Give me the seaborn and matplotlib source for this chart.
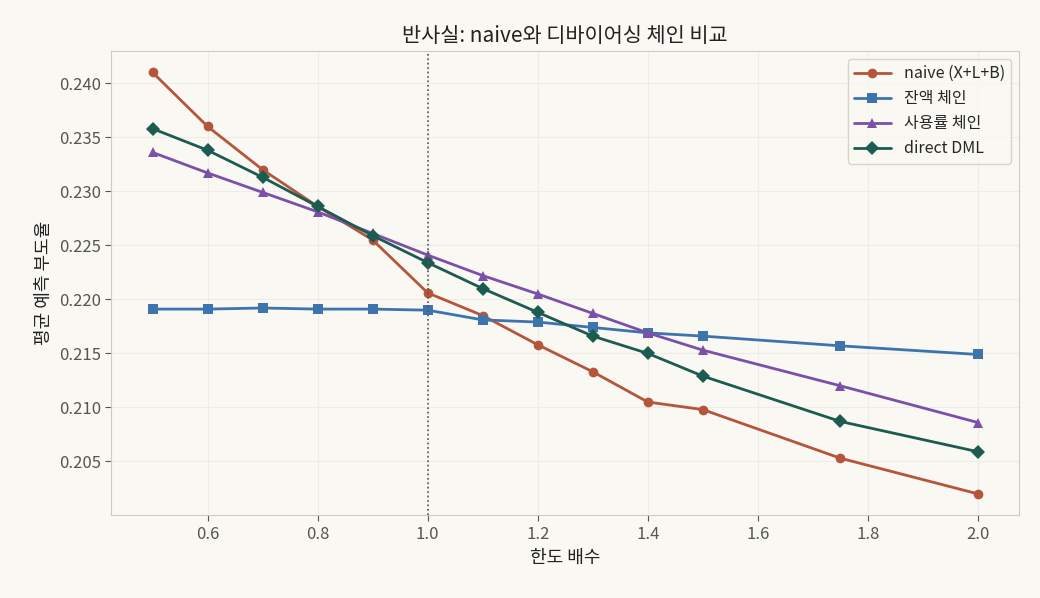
import pandas as pd
import matplotlib.pyplot as plt
import seaborn as sns

# Data
limit_mult = [0.5, 0.6, 0.7, 0.8, 0.9, 1.0, 1.1, 1.2, 1.3, 1.4, 1.5, 1.75, 2.0]
naive = [0.2410, 0.2360, 0.2320, 0.2286, 0.2255, 0.2206, 0.2185, 0.2158, 0.2133, 0.2105, 0.2098, 0.2053, 0.2020]
balance_chain = [0.2191, 0.2191, 0.2192, 0.2191, 0.2191, 0.2190, 0.2181, 0.2179, 0.2174, 0.2169, 0.2166, 0.2157, 0.2149]
usage_chain = [0.2336, 0.2317, 0.2299, 0.2281, 0.2261, 0.2241, 0.2222, 0.2205, 0.2187, 0.2169, 0.2153, 0.2120, 0.2086]
direct_dml = [0.2358, 0.2338, 0.2313, 0.2286, 0.2259, 0.2234, 0.2210, 0.2188, 0.2166, 0.2150, 0.2129, 0.2087, 0.2059]

series_names = ['naive (X+L+B)', '잔액 체인', '사용률 체인', 'direct DML']
colors = ['#b5553b', '#3d74ae', '#7b50a8', '#1c5c50']
markers = ['o', 's', '^', 'D']

df = pd.DataFrame({'x': limit_mult * 4,
                   'y': naive + balance_chain + usage_chain + direct_dml,
                   'series': sum([[n] * len(limit_mult) for n in series_names], [])})

sns.set_style('whitegrid')
plt.rcParams['font.family'] = ['Noto Sans CJK KR', 'DejaVu Sans']

fig, ax = plt.subplots(figsize=(10.4, 5.98), dpi=100)
fig.patch.set_facecolor('#f9f8f3')
ax.set_facecolor('#f9f8f3')

sns.lineplot(data=df, x='x', y='y', hue='series', style='series',
             hue_order=series_names, style_order=series_names,
             palette=dict(zip(series_names, colors)),
             markers=dict(zip(series_names, markers)), dashes=False,
             linewidth=2, markersize=7, markeredgewidth=0, ax=ax)

ax.axvline(1.0, color='#555555', linestyle=':', linewidth=1.2)

ax.set_title('반사실: naive와 디바이어싱 체인 비교', fontsize=15, color='#222222')
ax.set_xlabel('한도 배수', fontsize=13, color='#222222')
ax.set_ylabel('평균 예측 부도율', fontsize=13, color='#222222')
ax.set_xticks([0.6, 0.8, 1.0, 1.2, 1.4, 1.6, 1.8, 2.0])
ax.set_yticks([0.205, 0.210, 0.215, 0.220, 0.225, 0.230, 0.235, 0.240])
ax.yaxis.set_major_formatter(plt.FormatStrFormatter('%.3f'))
ax.set_xlim(0.425, 2.075)
ax.set_ylim(0.2000, 0.2430)
ax.tick_params(axis='both', labelsize=12, colors='#555555', length=4, left=True, bottom=True)
ax.grid(True, color='#eeece6', linewidth=0.8)
for s in ax.spines.values():
    s.set_color('#cfcbc0')

leg = ax.legend(loc='upper right', fontsize=11.5, frameon=True, handlelength=2.3)
leg.get_frame().set_facecolor('#f9f8f3')
leg.get_frame().set_edgecolor('#cfcbc0')

plt.subplots_adjust(left=0.107, right=0.98, top=0.915, bottom=0.138)
plt.savefig('out.png', dpi=100, facecolor=fig.get_facecolor())
